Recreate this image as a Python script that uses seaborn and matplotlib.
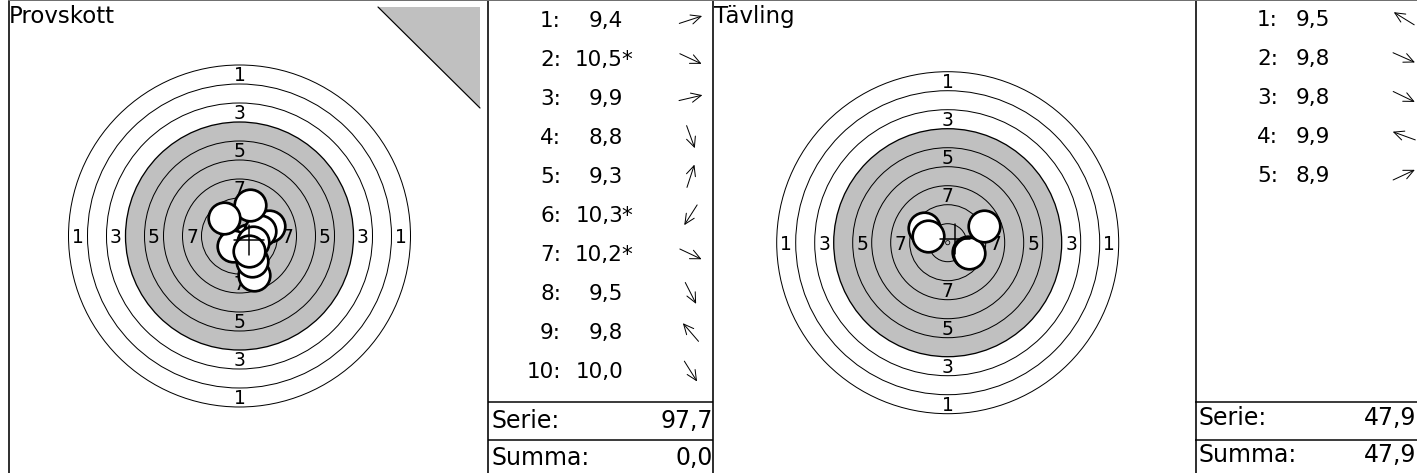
import numpy as np
import matplotlib
matplotlib.use("Agg")
import matplotlib.pyplot as plt
from matplotlib.patches import Circle, Polygon
import seaborn as sns
import pandas as pd

# ---------------- data ----------------
ring_labels = [1, 3, 5, 7]          # rings that carry a printed number
ring_count = 9                      # numbered ring circles (1 unit apart)
black_radius = 6                    # grey aiming area radius (units)

panel_titles = ["Provskott", "Tävling"]
serie_label = "Serie:"
summa_label = "Summa:"

prov_shot_no = [1, 2, 3, 4, 5, 6, 7, 8, 9, 10]
prov_scores = [9.4, 10.5, 9.9, 8.8, 9.3, 10.3, 10.2, 9.5, 9.8, 10.0]
prov_inner = [False, True, False, False, False, True, True, False, False, False]
prov_x = [1.53, 0.45, 1.07, 0.75, 0.53, -0.35, 0.72, 0.68, -0.80, 0.50]
prov_y = [0.50, -0.21, 0.25, -2.07, 1.62, -0.55, -0.34, -1.34, 0.93, -0.80]
prov_summa = 0.0

tav_shot_no = [1, 2, 3, 4, 5]
tav_scores = [9.5, 9.8, 9.8, 9.9, 8.9]
tav_inner = [False, False, False, False, False]
tav_x = [-1.23, 1.08, 1.12, -1.02, 1.89]
tav_y = [0.76, -0.48, -0.54, 0.37, 0.88]
tav_summa = 47.9

# ---------------- style ----------------
sns.set_theme(style="white")
plt.rcParams["font.family"] = ["DejaVu Sans"]
plt.rcParams["text.color"] = "black"

W, H = 1417, 473
U = 19.0          # pixels per ring unit
GREY = "#c0c0c0"
PT = 72.0 / 100.0  # points per pixel
FS_TITLE = 16.5
FS_ROW = 15.5
FS_SUM = 17
FS_RING = 13.5

fig = plt.figure(figsize=(W / 100, H / 100), dpi=100)
fig.patch.set_facecolor("white")


def px_axes(x0, y0, x1, y1):
    ax = fig.add_axes([x0 / W, 1 - y1 / H, (x1 - x0) / W, (y1 - y0) / H])
    ax.set_axis_off()
    return ax


def fmt(v):
    return f"{v:.1f}".replace(".", ",")


def draw_target(box, center, title, xs, ys, corner=False):
    x0, y0, x1, y1 = box
    cx, cy = center
    ax = px_axes(x0, y0, x1, y1)
    ax.set_xlim((x0 - cx) / U, (x1 - cx) / U)
    ax.set_ylim((cy - y1) / U, (cy - y0) / U)

    def p2u(px, py):
        return ((px - cx) / U, (cy - py) / U)

    # grey aiming area
    ax.add_patch(Circle((0, 0), black_radius, facecolor=GREY, edgecolor="none", zorder=1))
    for k in range(1, ring_count + 1):
        ax.add_patch(Circle((0, 0), k, fill=False, edgecolor="black",
                            lw=1.0 * PT * (1.3 if k == black_radius else 1.0), zorder=2))
    ax.add_patch(Circle((0, 0), 0.11, fill=False, edgecolor="black", lw=0.8 * PT, zorder=2))

    cap = FS_RING * 0.729 / 72 * 100 / U
    for s in ring_labels:
        r = 9.5 - s
        for (tx, ty) in [(0, r), (0, -r), (-r, 0), (r, 0)]:
            ax.text(tx, ty - cap / 2, str(s), ha="center", va="baseline",
                    fontsize=FS_RING, color="black", zorder=3)

    # shots
    df = pd.DataFrame({"x": xs, "y": ys})
    sns.scatterplot(data=df, x="x", y="y", ax=ax, s=(31.6 * PT) ** 2, color="white",
                    edgecolor="black", linewidth=2.7 * PT, legend=False, zorder=5)
    ax.set_axis_off()

    # mean point of impact cross
    mx, my = float(np.mean(xs)), float(np.mean(ys))
    h = 15 / U
    ax.plot([mx - h, mx + h], [my, my], color="black", lw=1.5 * PT, zorder=6)
    ax.plot([mx, mx], [my - h, my + h], color="black", lw=1.5 * PT, zorder=6)

    if corner:
        pts = [p2u(378, 7), p2u(480, 7), p2u(480, 108)]
        ax.add_patch(Polygon(pts, closed=True, facecolor=GREY, edgecolor="none", zorder=1))
        ax.plot([pts[0][0], pts[2][0]], [pts[0][1], pts[2][1]], color="black",
                lw=1.2 * PT, zorder=2)

    tx, ty = p2u(x0 + 1, 23)
    ax.text(tx, ty, title, ha="left", va="baseline", fontsize=FS_TITLE, color="black")
    return ax


def draw_table(box, nums, scores, inner, xs, ys, summa, lab_dx, arr_dx, base0, step, sb):
    x0, y0, x1, y1 = box
    ax = px_axes(x0, y0, x1, y1)
    ax.set_xlim(0, x1 - x0)
    ax.set_ylim(y1 - y0, 0)
    for i, (n, sc, star, sx, sy) in enumerate(zip(nums, scores, inner, xs, ys)):
        b = base0 + step * i
        ax.text(lab_dx, b, f"{n}:", ha="right", va="baseline", fontsize=FS_ROW, color="black")
        ax.text(135, b, fmt(sc), ha="right", va="baseline", fontsize=FS_ROW, color="black")
        if star:
            ax.text(133, b, "*", ha="left", va="baseline", fontsize=FS_ROW, color="black")
        ang = np.arctan2(sy, sx)
        L = 24
        dx, dy = np.cos(ang) * L / 2, -np.sin(ang) * L / 2
        c = (arr_dx, b - 7)
        ax.annotate("", xy=(c[0] + dx, c[1] + dy), xytext=(c[0] - dx, c[1] - dy),
                    arrowprops=dict(arrowstyle="->,head_length=0.6,head_width=0.28",
                                    lw=1.0 * PT, color="black", shrinkA=0, shrinkB=0))
    serie = sum(scores)
    ax.text(3.5, sb, serie_label, ha="left", va="baseline", fontsize=FS_SUM, color="black")
    ax.text(x1 - x0 - 0.5, sb, fmt(serie), ha="right", va="baseline", fontsize=FS_SUM,
            color="black")
    ax.text(3.5, sb + 37, summa_label, ha="left", va="baseline", fontsize=FS_SUM, color="black")
    ax.text(x1 - x0 - 0.5, sb + 37, fmt(summa), ha="right", va="baseline", fontsize=FS_SUM,
            color="black")
    ax.plot([0, x1 - x0], [401.5, 401.5], color="black", lw=1.5 * PT)
    ax.plot([0, x1 - x0], [439.5, 439.5], color="black", lw=1.5 * PT)
    return ax


draw_target((8, 0, 488, 473), (239.5, 236.0), panel_titles[0], prov_x, prov_y, corner=True)
draw_target((713, 0, 1195, 473), (947.7, 242.7), panel_titles[1], tav_x, tav_y)
draw_table((488, 0, 713, 473), prov_shot_no, prov_scores, prov_inner, prov_x, prov_y,
           prov_summa, 73, 202.7, 26.7, 39.07, 428)
draw_table((1195, 0, 1417, 473), tav_shot_no, tav_scores, tav_inner, tav_x, tav_y,
           tav_summa, 83, 209, 25.5, 39.1, 425)

# panel frame lines
ov = px_axes(0, 0, W, H)
ov.set_xlim(0, W)
ov.set_ylim(H, 0)
for xv in [8.5, 488, 713, 1195.5]:
    ov.plot([xv, xv], [0, H], color="black", lw=1.6 * PT)
ov.plot([8, W], [0.5, 0.5], color="#707070", lw=1.0 * PT)

fig.savefig("out.png", dpi=100, facecolor="white")
